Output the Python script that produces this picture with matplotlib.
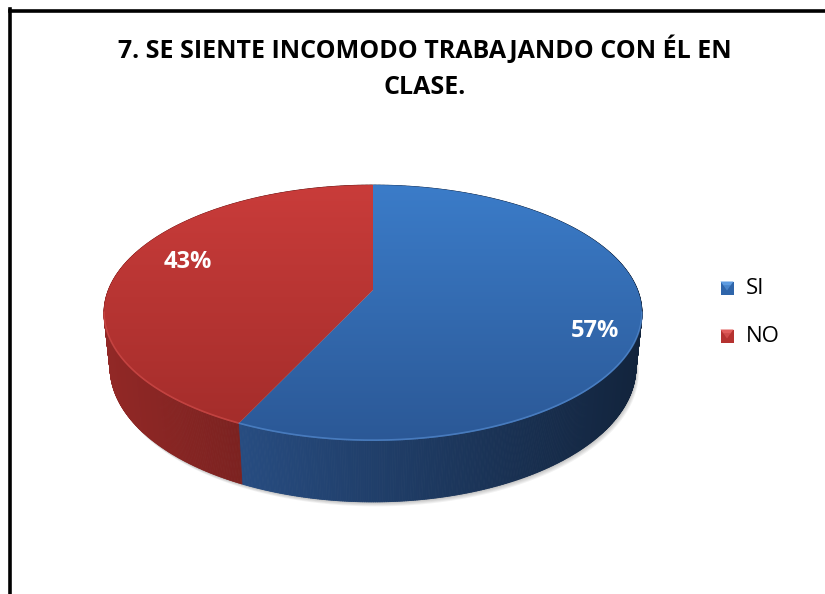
import numpy as np
import matplotlib
matplotlib.use("Agg")
import matplotlib.pyplot as plt
from matplotlib.patches import Polygon, Rectangle
from matplotlib.collections import PolyCollection
from matplotlib.lines import Line2D
from matplotlib.colors import to_rgb

# ---------------- data ----------------
categories = ["SI", "NO"]
values = [57, 43]
title_lines = ["7. SE SIENTE INCOMODO TRABAJANDO CON ÉL EN", "CLASE."]

# ---------------- style ----------------
top_colors_hi = ["#3B7CC9", "#C93C3A"]   # top face, far edge
top_colors_lo = ["#2B5896", "#A22C2A"]   # top face, near edge
side_base = ["#2E5A98", "#922826"]       # side wall base colour
rim_colors = ["#5A92D8", "#D5504E"]
legend_colors = ["#2F65AA", "#B53230"]
legend_bevel = ["#5D9BE0", "#E05C5A"]
label_offsets = [(9, 19), (15, -7)]
FONT = ["Open Sans", "DejaVu Sans"]

W, H = 825, 594
fig = plt.figure(figsize=(W / 100, H / 100), dpi=100)
ax = fig.add_axes([0, 0, 1, 1])
ax.set_xlim(0, W)
ax.set_ylim(H, 0)
ax.axis("off")

# perspective model of the 3D pie (layout parameters)
cx, cy0 = 373.0, 290.0
phi = np.radians(27.9)
s_, c_ = np.sin(phi), np.cos(phi)
Dd, f = 4.92, 1302.0
height = 0.234


def proj(theta_deg, r=1.0, Y=0.0):
    t = np.radians(np.asarray(theta_deg, dtype=float))
    X = r * np.sin(t)
    Z = r * np.cos(t)
    yc = Z * s_ + Y * c_
    zc = Dd + Z * c_ - Y * s_
    return cx + f * X / zc, cy0 - f * yc / zc


total = float(sum(values))
bounds = np.concatenate([[0.0], np.cumsum(values) / total * 360.0])

# shadow below the pie
tt = np.linspace(0, 360, 361)
bx, by = proj(tt, 1.0, -height)
for k in range(1, 6):
    ax.add_patch(Polygon(np.column_stack([bx + k * 0.6, by + k * 0.9]), closed=True,
                         facecolor="#000000", edgecolor="none", alpha=0.05, zorder=1))

# side walls
for i in range(len(values)):
    t1, t2 = bounds[i], bounds[i + 1]
    ts = np.linspace(t1, t2, int((t2 - t1) * 3) + 2)
    xt, yt = proj(ts, 1.0, 0.0)
    xb, yb = proj(ts, 1.0, -height)
    quads, cols, depth = [], [], []
    base = np.array(to_rgb(side_base[i]))
    for j in range(len(ts) - 1):
        q = [(xt[j], yt[j]), (xt[j + 1], yt[j + 1]), (xb[j + 1], yb[j + 1]), (xb[j], yb[j])]
        xm = 0.5 * (xt[j] + xt[j + 1])
        m = 1.0 - (xm - 104.0) * 0.00112
        m = np.clip(m, 0.35, 1.05)
        quads.append(q)
        cols.append(np.clip(base * m, 0, 1))
        depth.append(np.cos(np.radians(0.5 * (ts[j] + ts[j + 1]))))
    order = np.argsort(depth)[::-1]
    pc = PolyCollection([quads[k] for k in order], facecolors=[cols[k] for k in order],
                        edgecolors=[cols[k] for k in order], linewidths=0.6, zorder=2)
    ax.add_collection(pc)

# top faces with vertical gradient
x_all, y_all = proj(tt, 1.0, 0.0)
ymin, ymax = y_all.min(), y_all.max()
xmin, xmax = x_all.min(), x_all.max()
grad = np.linspace(0, 1, 256)[:, None]
for i in range(len(values)):
    t1, t2 = bounds[i], bounds[i + 1]
    ts = np.linspace(t1, t2, 300)
    xa, ya = proj(ts, 1.0, 0.0)
    ccx, ccy = proj(0.0, 0.0, 0.0)
    poly = np.vstack([[ccx, ccy], np.column_stack([xa, ya])])
    patch = Polygon(poly, closed=True, facecolor="none", edgecolor="none", zorder=3)
    ax.add_patch(patch)
    hi = np.array(to_rgb(top_colors_hi[i]))
    lo = np.array(to_rgb(top_colors_lo[i]))
    img = (hi[None, None, :] * (1 - grad[:, :, None]) + lo[None, None, :] * grad[:, :, None])
    img = np.repeat(img, 2, axis=1)
    im = ax.imshow(img, extent=(xmin, xmax, ymax, ymin), origin="upper",
                   interpolation="bilinear", zorder=3, aspect="auto")
    im.set_clip_path(patch)
    # light rim along the front edge
    lo_t, hi_t = max(t1, 100.0), min(t2, 260.0)
    if hi_t > lo_t:
        tr = np.linspace(lo_t, hi_t, 200)
        xr, yr = proj(tr, 1.0, 0.0)
        ax.plot(xr, yr - 0.8, color=rim_colors[i], lw=1.2, alpha=0.6, zorder=4,
                solid_capstyle="butt")

ax.set_xlim(0, W)
ax.set_ylim(H, 0)

# percentage labels
for i in range(len(values)):
    mid = 0.5 * (bounds[i] + bounds[i + 1])
    lx, ly = proj(mid, 0.8, 0.0)
    pct = "{:.0f}%".format(values[i] / total * 100)
    ax.text(lx + label_offsets[i][0], ly + label_offsets[i][1], pct, color="white",
            fontsize=17, fontweight="bold", family=FONT, ha="center", va="center", zorder=6)

# legend
for i, name in enumerate(categories):
    ly = 288 + 48 * i
    x0, y0, sz = 720.5, ly - 6.5, 13
    ax.add_patch(Rectangle((x0, y0), sz, sz, facecolor=legend_colors[i],
                           edgecolor="none", zorder=6))
    ax.add_patch(Polygon([(x0, y0), (x0 + sz, y0), (x0 + sz - 3, y0 + 4), (x0 + 3, y0 + 4)],
                         closed=True, facecolor=legend_bevel[i], edgecolor="none", zorder=7))
    ax.add_patch(Polygon([(x0 + 3, y0 + 4), (x0 + sz - 3, y0 + 4), (x0 + sz / 2, y0 + 9)],
                         closed=True, facecolor=legend_bevel[i], edgecolor="none",
                         alpha=0.6, zorder=7))
    ax.text(746, ly, name, fontsize=16, family=FONT, ha="left", va="center",
            color="black", zorder=6)

# title
ax.text(425, 50, title_lines[0], fontsize=18, fontweight="bold", family=FONT,
        ha="center", va="center", color="black")
ax.text(425, 88, title_lines[1], fontsize=18, fontweight="bold", family=FONT,
        ha="center", va="center", color="black")

# frame (left and top edges visible)
fig.add_artist(Line2D([9.5 / W, 9.5 / W], [0, 1 - 9.0 / H], transform=fig.transFigure,
                      color="black", lw=2.6, solid_capstyle="projecting"))
fig.add_artist(Line2D([9.5 / W, 1.0], [1 - 10.5 / H, 1 - 10.5 / H], transform=fig.transFigure,
                      color="black", lw=2.6, solid_capstyle="projecting"))

fig.savefig("out.png", dpi=100)
